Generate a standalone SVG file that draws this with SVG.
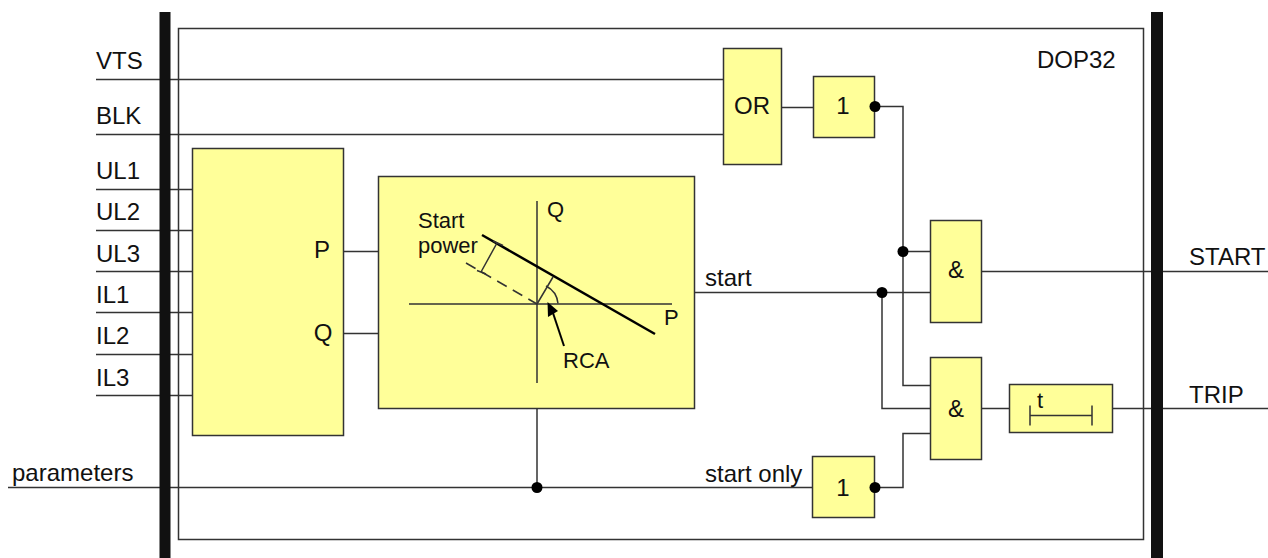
<svg xmlns="http://www.w3.org/2000/svg" width="1268" height="558" viewBox="0 0 1268 558">
<defs>
<style>
text{font-family:"Liberation Sans",Arial,sans-serif;font-size:24px;fill:#111}
.s{font-size:22px}
.b{fill:#ffff99;stroke:#333;stroke-width:1.5}
.l{fill:none;stroke:#333;stroke-width:1.5}
.d{fill:#000}
.m{text-anchor:middle}
</style>
</defs>
<rect width="1268" height="558" fill="#fff"/>
<g id="frame"><rect x="178.500" y="28.500" width="965" height="511" fill="none" stroke="#333" stroke-width="1.500"/></g>
<g id="connectors" class="l">
<path class="l" d="M96 79.500H723M96 134.500H723M96 189.500H192M96 230.500H192M96 271.500H192M96 312.500H192M96 354.500H192M96 395.500H192"/>
<path class="l" d="M344 251.500H378M344 333.500H378M782 107.500H813M875 106.500H903V385.500H930M903 251.500H930M695 292.500H930M882 292.500V408.500H930M982 271.500H1268M982 408.500H1009M1113 408.500H1268"/>
<path class="l" d="M8 487.500H812M537 409V487.500M875 487.500H903V433.500H930"/>
</g>
<g id="bar-left"><rect x="159.500" y="12" width="11" height="546" fill="#111"/></g>
<g id="bar-right"><rect x="1151" y="12" width="12" height="546" fill="#111"/></g>
<g id="or"><rect class="b" x="723.500" y="48.500" width="58" height="116"/><text class="m" x="752" y="114">OR</text></g>
<g id="not1"><rect class="b" x="813.500" y="76.500" width="61" height="61"/><text class="m" x="843" y="114">1</text></g>
<g id="pq"><rect class="b" x="192.500" y="148.500" width="151" height="287"/><text class="m" x="322" y="258">P</text><text class="m" x="323" y="341">Q</text></g>
<g id="char">
<rect class="b" x="378.500" y="176.500" width="316" height="232"/>
<path class="l" d="M537 201V383M409 304H672"/>
<path fill="none" stroke="#000" stroke-width="2.500" d="M482 235L655 334"/>
<path class="l" d="M497 243L481 272M493 241L503 245.500M477 270.500L486 274M537 304L553 277"/>
<path class="l" stroke-dasharray="11 7" d="M466 263L537 304"/>
<path class="l" d="M546 286A22 22 0 0 1 558 303.500"/>
<path fill="#000" d="M547.500 302L558 311L548 317Z"/>
<path fill="none" stroke="#000" stroke-width="2" d="M553 313L564 346"/>
<text class="s" x="547" y="217">Q</text>
<text class="s" x="418" y="228">Start</text>
<text class="s" x="418" y="253">power</text>
<text class="s" x="664" y="325">P</text>
<text class="s" x="563" y="368">RCA</text>
</g>
<g id="and1"><rect class="b" x="930.500" y="220.500" width="51" height="102"/><text class="m" x="956" y="278">&amp;</text></g>
<g id="and2"><rect class="b" x="930.500" y="357.500" width="51" height="102"/><text class="m" x="956" y="417">&amp;</text></g>
<g id="timer"><rect class="b" x="1009.500" y="384.500" width="103" height="48"/><path class="l" d="M1030 405.500V425.500M1092 405.500V425.500M1030 415.500H1092"/><text class="m s" x="1040" y="408">t</text></g>
<g id="not2"><rect class="b" x="812.500" y="456.500" width="62" height="61"/><text class="m" x="843" y="496">1</text></g>
<g id="dots" class="d">
<circle cx="875" cy="106.500" r="5.500"/><circle cx="903" cy="251.500" r="5.500"/><circle cx="882" cy="292.500" r="5.500"/><circle cx="537" cy="487.500" r="5.500"/><circle cx="875" cy="487.500" r="5.500"/>
</g>
<g id="labels">
<text x="96" y="69">VTS</text><text x="96" y="124">BLK</text><text x="96" y="179">UL1</text><text x="96" y="220">UL2</text><text x="96" y="262">UL3</text><text x="96" y="303">IL1</text><text x="96" y="344">IL2</text><text x="96" y="386">IL3</text>
<text x="12" y="481">parameters</text><text x="705" y="286">start</text><text x="705" y="482">start only</text>
<text x="1037" y="68">DOP32</text><text x="1189" y="265">START</text><text x="1189" y="403">TRIP</text>
</g>
</svg>
